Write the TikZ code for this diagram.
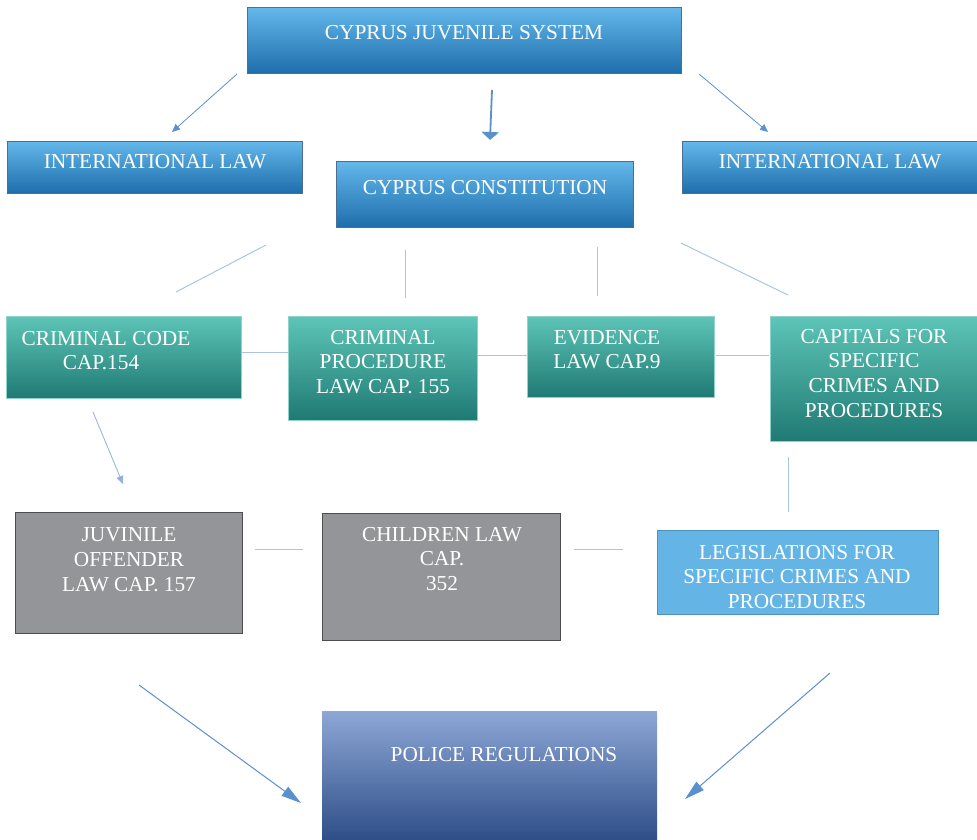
\documentclass[tikz,border=0pt]{standalone}
\usepackage{fontspec}
\setmainfont{Liberation Serif}
\usetikzlibrary{arrows.meta}
\definecolor{lnk}{HTML}{A9C5E6}
\definecolor{arw}{HTML}{5B90CF}
\definecolor{bluetop}{HTML}{64B8EA}
\definecolor{bluebot}{HTML}{1E6EAC}
\definecolor{blueedge}{HTML}{4A6F95}
\definecolor{tealtop}{HTML}{5EC5B8}
\definecolor{tealmid}{HTML}{28BBA8}
\definecolor{tealbot}{HTML}{1F7A73}
\definecolor{tealedge}{HTML}{8FD3CB}
\definecolor{greyfill}{HTML}{939598}
\definecolor{greyedge}{HTML}{4D4D4F}
\definecolor{legfill}{HTML}{64B5E5}
\definecolor{poltop}{HTML}{8DA7D6}
\definecolor{polmid}{HTML}{5478BE}
\definecolor{polbot}{HTML}{2F4E88}
\tikzset{
  boxbase/.style={inner sep=0pt, outer sep=0pt, anchor=north west},
  bluebox/.style={boxbase, draw=blueedge, line width=0.8pt, top color=bluetop, bottom color=bluebot},
  tealbox/.style={boxbase, draw=tealedge, line width=0.6pt, top color=tealtop, middle color=tealmid, bottom color=tealbot},
  greybox/.style={boxbase, draw=greyedge, line width=0.8pt, fill=greyfill},
  legbox/.style={boxbase, draw=legfill!80!black, line width=0.4pt, fill=legfill},
  polbox/.style={boxbase, top color=poltop, middle color=polmid, bottom color=polbot},
  lbl/.style={inner sep=0pt, outer sep=0pt, anchor=north, align=center, text=white,
    font=\fontsize{21.3}{24.8}\selectfont},
  link/.style={draw=lnk, line width=1pt},
  thinarrow/.style={draw=arw, line width=0.8pt, -{Triangle[width=7pt,length=8pt]}},
  fatarrow/.style={draw=arw, line width=1.8pt, -{Triangle[width=17pt,length=8pt]}},
  bigarrow/.style={draw=arw, line width=1pt, -{Triangle[width=11pt,length=20pt]}},
}
\begin{document}
\begin{tikzpicture}[x=1pt,y=-1pt]
\useasboundingbox (0,0) rectangle (977,839);
% top box
\node[bluebox, minimum width=434pt, minimum height=66pt] (sys) at (247,7) {};
\node[lbl] (systxt) at (464,25) {CYPRUS JUVENILE SYSTEM};
% second row
\node[bluebox, minimum width=295pt, minimum height=52pt] (intl) at (7,141) {};
\node[lbl] (intltxt) at (155,154) {INTERNATIONAL LAW};
\node[bluebox, minimum width=297pt, minimum height=66pt] (const) at (336,161) {};
\node[lbl] (consttxt) at (485,180) {CYPRUS CONSTITUTION};
\node[bluebox, minimum width=295pt, minimum height=52pt] (intr) at (682,141) {};
\node[lbl] (intrtxt) at (830,154) {INTERNATIONAL LAW};
% arrows from top
\coordinate (a1s) at (237,74); \coordinate (a1e) at (172,132);
\coordinate (a2s) at (492,90); \coordinate (a2e) at (490,140);
\coordinate (a3s) at (699,74); \coordinate (a3e) at (768,132);
\draw[thinarrow] (a1s) -- (a1e);
\draw[fatarrow] (a2s) -- (a2e);
\draw[thinarrow] (a3s) -- (a3e);
% links below constitution
\coordinate (l1s) at (266,245); \coordinate (l1e) at (176,292);
\coordinate (l2s) at (405,250); \coordinate (l2e) at (405,298);
\coordinate (l3s) at (597,247); \coordinate (l3e) at (597,296);
\coordinate (l4s) at (681,243); \coordinate (l4e) at (788,295);
\draw[link] (l1s) -- (l1e);
\draw[link] (l2s) -- (l2e);
\draw[link] (l3s) -- (l3e);
\draw[link] (l4s) -- (l4e);
% teal row
\node[tealbox, minimum width=235pt, minimum height=82pt] (crim) at (6,316) {};
\node[lbl] (crimtxt) at (106,331) {CRIMINAL CODE\\\hspace*{-10pt}CAP.154};
\node[tealbox, minimum width=189pt, minimum height=104pt] (proc) at (288,316) {};
\node[lbl] (proctxt) at (383,330) {CRIMINAL\\PROCEDURE\\LAW CAP. 155};
\node[tealbox, minimum width=187pt, minimum height=81pt] (evid) at (527,316) {};
\node[lbl] (evidtxt) at (607,330) {EVIDENCE\\LAW CAP.9};
\node[tealbox, minimum width=207pt, minimum height=125pt] (capi) at (770,316) {};
\node[lbl] (capitxt) at (874,329) {CAPITALS FOR\\SPECIFIC\\CRIMES AND\\PROCEDURES};
\coordinate (h1s) at (242,352); \coordinate (h1e) at (288,352);
\coordinate (h2s) at (478,355); \coordinate (h2e) at (527,355);
\coordinate (h3s) at (716,355); \coordinate (h3e) at (769,355);
\draw[link] (h1s) -- (h1e);
\draw[link] (h2s) -- (h2e);
\draw[link] (h3s) -- (h3e);
% arrow from criminal code, link from capitals
\coordinate (c1s) at (93,412); \coordinate (c1e) at (123,484);
\draw[thinarrow, draw=arw!70] (c1s) -- (c1e);
\coordinate (v1s) at (788,457); \coordinate (v1e) at (788,512);
\draw[link] (v1s) -- (v1e);
% third row
\node[greybox, minimum width=227pt, minimum height=121pt] (juv) at (15,512) {};
\node[lbl] (juvtxt) at (129,528) {JUVINILE\\OFFENDER\\LAW CAP. 157};
\node[greybox, minimum width=238pt, minimum height=127pt] (child) at (322,513) {};
\node[lbl] (childtxt) at (442,527) {CHILDREN LAW\\CAP.\\352};
\node[legbox, minimum width=281pt, minimum height=84pt] (legi) at (657,530) {};
\node[lbl] (legitxt) at (797,545) {LEGISLATIONS FOR\\SPECIFIC CRIMES AND\\PROCEDURES};
\coordinate (g1s) at (255,549); \coordinate (g1e) at (303,549);
\coordinate (g2s) at (574,549); \coordinate (g2e) at (623,549);
\draw[link] (g1s) -- (g1e);
\draw[link] (g2s) -- (g2e);
% police
\node[polbox, minimum width=335pt, minimum height=129pt] (pol) at (322,711) {};
\node[lbl] (poltxt) at (504,747) {POLICE REGULATIONS};
\coordinate (b1s) at (139,685); \coordinate (b1e) at (301,803);
\coordinate (b2s) at (830,673); \coordinate (b2e) at (685,799);
\draw[bigarrow] (b1s) -- (b1e);
\draw[bigarrow] (b2s) -- (b2e);
\end{tikzpicture}
\end{document}
